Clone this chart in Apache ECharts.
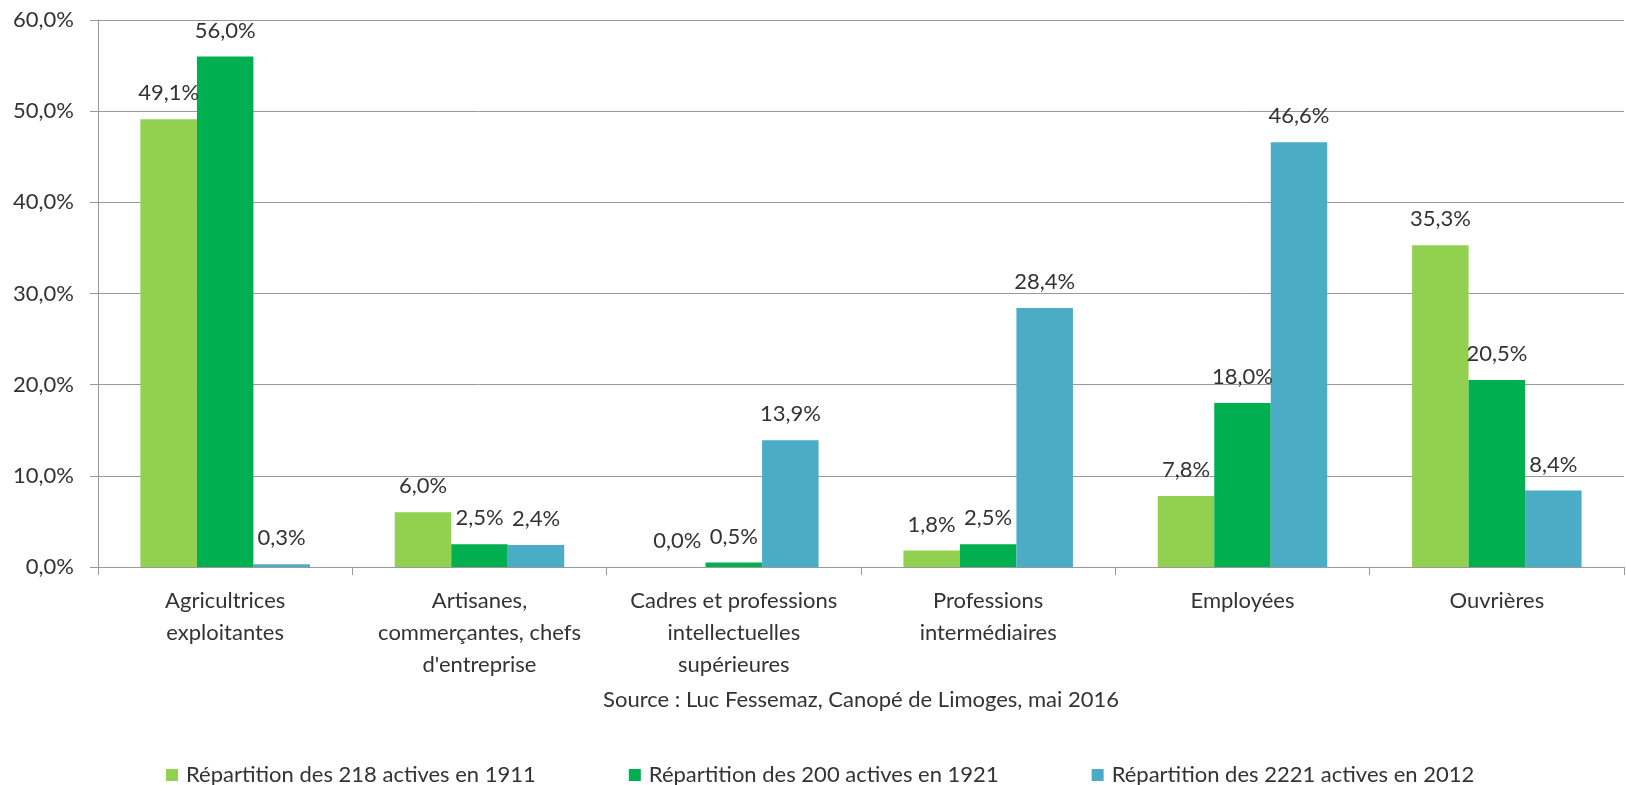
<!DOCTYPE html>
<html>
<head>
<meta charset="utf-8">
<script src="https://cdn.jsdelivr.net/npm/echarts@6/dist/echarts.min.js"></script>
<style>
  html, body { margin: 0; padding: 0; background: #fff; }
  #chart { width: 1626px; height: 785px; }
</style>
</head>
<body>
<div id="chart"></div>
<script>
/* ===== données ===== */
const categories = [
  'Agricultrices\nexploitantes',
  'Artisanes,\ncommerçantes, chefs\nd\'entreprise',
  'Cadres et professions\nintellectuelles\nsupérieures',
  'Professions\nintermédiaires',
  'Employées',
  'Ouvrières'
]
const seriesNames = [
  'Répartition des 218 actives en 1911',
  'Répartition des 200 actives en 1921',
  'Répartition des 2221 actives en 2012'
]
const values1911 = [49.1, 6.0, 0.0, 1.8, 7.8, 35.3]
const values1921 = [56.0, 2.5, 0.5, 2.5, 18.0, 20.5]
const values2012 = [0.3, 2.4, 13.9, 28.4, 46.6, 8.4]
const colors = ['#92D050', '#00B050', '#4BACC6']
const sourceText = 'Source : Luc Fessemaz, Canopé de Limoges, mai 2016'

/* ===== rendu ===== */
const FONT = 'Lato'
const FS = 22
const TXT = '#333'
const GRID = '#999'
const pct = v => v.toFixed(1).replace('.', ',') + '%'

const chart = echarts.init(document.getElementById('chart'))

const mkSeries = (name, data, color) => ({
  name,
  type: 'bar',
  data,
  barWidth: 56.5,
  barGap: '0%',
  itemStyle: { color },
  label: {
    show: true,
    position: 'top',
    distance: 14,
    formatter: p => pct(p.value),
    color: TXT,
    fontFamily: FONT,
    fontSize: FS,
    lineHeight: 24
  }
})

chart.setOption({
  animation: false,
  textStyle: { fontFamily: FONT },
  grid: { left: 98, right: 2, top: 20, bottom: 218 },
  legend: {
    data: seriesNames,
    left: 161,
    top: 759,
    itemWidth: 12,
    itemHeight: 12,
    itemGap: 93,
    icon: 'rect',
    textStyle: {
      color: TXT,
      fontFamily: FONT,
      fontSize: FS,
      padding: [0, 0, 0, 3]
    }
  },
  xAxis: {
    type: 'category',
    data: categories,
    name: sourceText,
    nameLocation: 'middle',
    nameGap: 121,
    nameTextStyle: { color: TXT, fontFamily: FONT, fontSize: FS, lineHeight: 24 },
    axisLine: { lineStyle: { color: GRID, width: 1 } },
    axisTick: { show: true, length: 8, alignWithLabel: false, lineStyle: { color: GRID } },
    axisLabel: {
      color: TXT,
      fontFamily: FONT,
      fontSize: FS,
      lineHeight: 32,
      margin: 18,
      interval: 0
    }
  },
  yAxis: {
    type: 'value',
    min: 0,
    max: 60,
    interval: 10,
    axisLine: { show: true, lineStyle: { color: GRID, width: 1 } },
    axisTick: { show: true, length: 8, lineStyle: { color: GRID } },
    splitLine: { show: true, lineStyle: { color: GRID, width: 1 } },
    axisLabel: {
      color: TXT,
      fontFamily: FONT,
      fontSize: FS,
      margin: 24,
      formatter: v => pct(v)
    }
  },
  series: [
    mkSeries(seriesNames[0], values1911, colors[0]),
    mkSeries(seriesNames[1], values1921, colors[1]),
    mkSeries(seriesNames[2], values2012, colors[2])
  ]
})
</script>
</body>
</html>
